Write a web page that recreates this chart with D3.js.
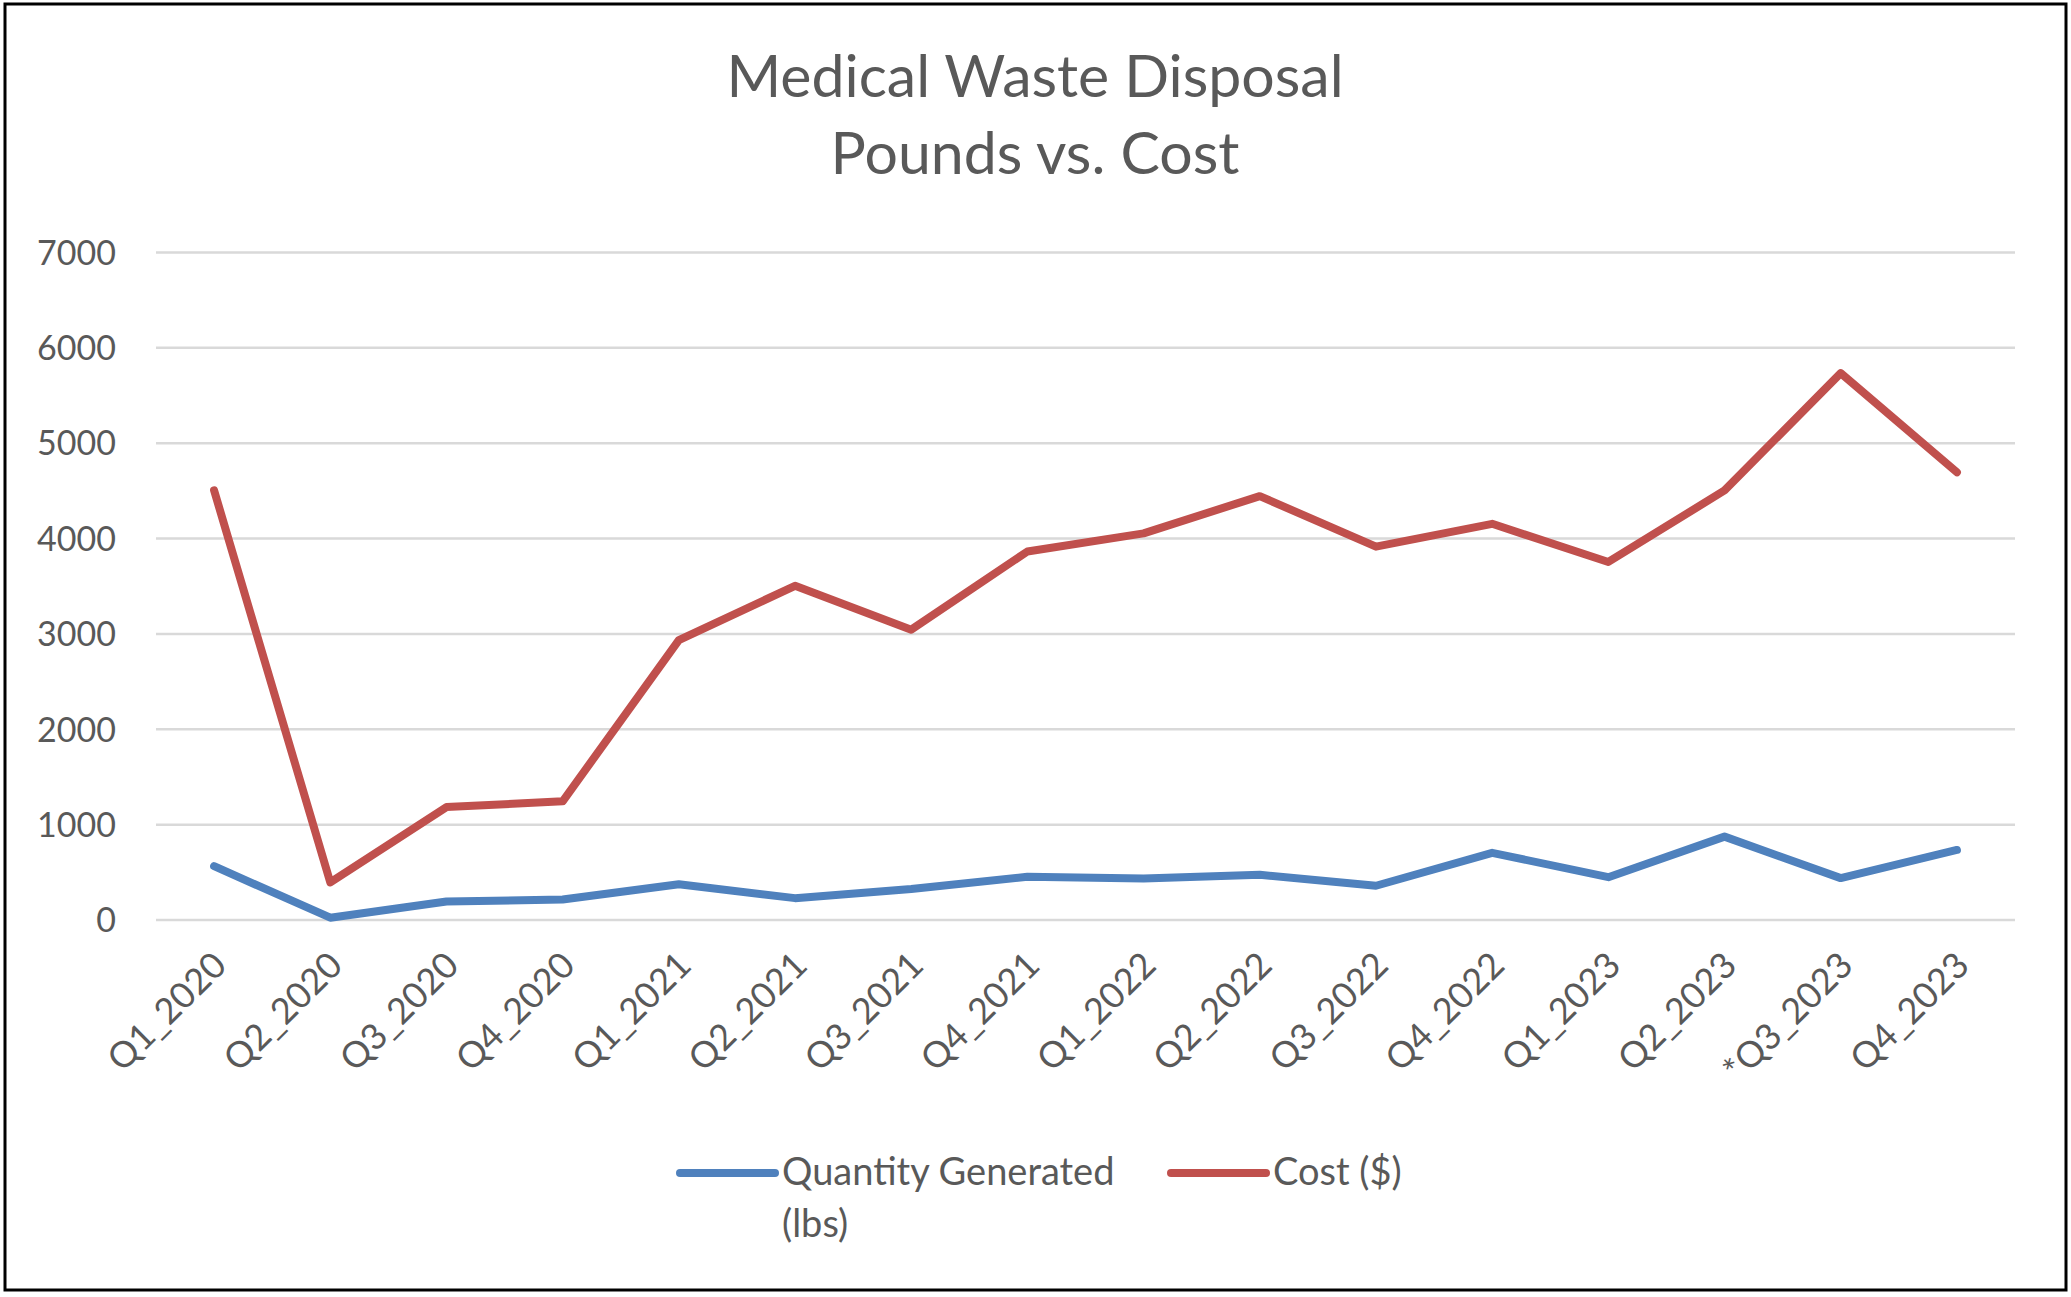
<!DOCTYPE html>
<html><head><meta charset="utf-8">
<script src="https://cdn.jsdelivr.net/npm/d3@7"></script>
<style>html,body{margin:0;padding:0;background:#fff;} svg{display:block;}</style>
</head><body>
<script>
const categories = ["Q1_2020","Q2_2020","Q3_2020","Q4_2020","Q1_2021","Q2_2021","Q3_2021","Q4_2021","Q1_2022","Q2_2022","Q3_2022","Q4_2022","Q1_2023","Q2_2023","*Q3_2023","Q4_2023"];
const quantityLbs = [560, 20, 190, 210, 370, 225, 320, 450, 430, 470, 355, 700, 445, 870, 435, 730];
const costDollars = [4500, 390, 1180, 1240, 2930, 3500, 3040, 3860, 4050, 4440, 3910, 4150, 3750, 4500, 5730, 4690];
const yTicks = [0, 1000, 2000, 3000, 4000, 5000, 6000, 7000];
const titleLines = ["Medical Waste Disposal", "Pounds vs. Cost"];
const seriesNames = [["Quantity Generated", "(lbs)"], ["Cost ($)"]];
const seriesColors = ["#4f81bd", "#c0504d"];

const W = 2071, H = 1297;
const font = "Lato, 'Open Sans', sans-serif";
const svg = d3.select("body").append("svg").attr("width", W).attr("height", H);
svg.append("rect").attr("width", W).attr("height", H).attr("fill", "#fff");
svg.append("rect").attr("x", 5).attr("y", 4).attr("width", 2061).attr("height", 1286)
  .attr("fill", "none").attr("stroke", "#000").attr("stroke-width", 3);

const pL = 156, pR = 2015, pT = 252, pB = 919.6;
const x = d3.scalePoint().domain(categories).range([pL, pR]).padding(0.5);
const y = d3.scaleLinear().domain([0, 7000]).range([pB, pT]);

// title
const t = svg.append("text").attr("text-anchor", "middle").attr("fill", "#595959")
  .style("font-family", font).style("font-size", "59px");
titleLines.forEach((s, i) => t.append("tspan").attr("x", 1035).attr("y", 97 + i * 77).text(s));

// grid
const gy = svg.append("g").attr("transform", `translate(${pL},0)`)
  .call(d3.axisLeft(y).tickValues(yTicks).tickSize(-(pR - pL)).tickPadding(40).tickFormat(d3.format("d")));
gy.select(".domain").remove();
gy.selectAll(".tick line").attr("stroke", "#d9d9d9").attr("stroke-width", 2.5);
gy.selectAll(".tick text").attr("fill", "#595959").style("font-family", font).style("font-size", "34px")
  .attr("dy", "0.36em");

// x axis labels
const gx = svg.append("g").attr("transform", `translate(0,${pB})`)
  .call(d3.axisBottom(x).tickSize(0).tickPadding(0));
gx.select(".domain").remove();
gx.selectAll(".tick text").attr("fill", "#595959").style("font-family", font).style("font-size", "36px")
  .attr("text-anchor", "end").attr("transform", "translate(-4,30) rotate(-45)").attr("dy", "0.7em").attr("y", 0);

// lines
const line = d3.line().x((d, i) => x(categories[i])).y(d => y(d));
[quantityLbs, costDollars].forEach((arr, k) => {
  svg.append("path").datum(arr).attr("d", line).attr("fill", "none")
    .attr("stroke", seriesColors[k]).attr("stroke-width", 8)
    .attr("stroke-linejoin", "round").attr("stroke-linecap", "round");
});

// legend
const legX = [680, 1171];
seriesNames.forEach((names, k) => {
  const g = svg.append("g");
  g.append("line").attr("x1", legX[k]).attr("x2", legX[k] + 95).attr("y1", 1173).attr("y2", 1173)
    .attr("stroke", seriesColors[k]).attr("stroke-width", 8).attr("stroke-linecap", "round");
  const tx = g.append("text").attr("fill", "#595959").style("font-family", font).style("font-size", "38px");
  names.forEach((s, i) => tx.append("tspan").attr("x", legX[k] + 102).attr("y", 1185 + i * 52).text(s));
});
</script>
</body></html>
